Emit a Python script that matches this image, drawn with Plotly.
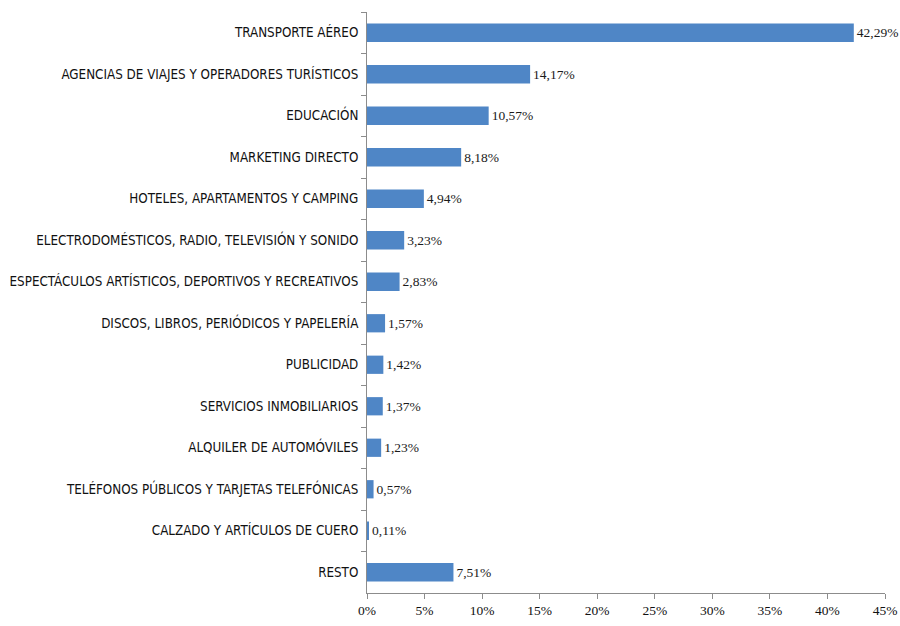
import plotly.graph_objects as go

categories = [
    'TRANSPORTE AÉREO',
    'AGENCIAS DE VIAJES Y OPERADORES TURÍSTICOS',
    'EDUCACIÓN',
    'MARKETING DIRECTO',
    'HOTELES, APARTAMENTOS Y CAMPING',
    'ELECTRODOMÉSTICOS, RADIO, TELEVISIÓN Y SONIDO',
    'ESPECTÁCULOS ARTÍSTICOS, DEPORTIVOS Y RECREATIVOS',
    'DISCOS, LIBROS, PERIÓDICOS Y PAPELERÍA',
    'PUBLICIDAD',
    'SERVICIOS INMOBILIARIOS',
    'ALQUILER DE AUTOMÓVILES',
    'TELÉFONOS PÚBLICOS Y TARJETAS TELEFÓNICAS',
    'CALZADO Y ARTÍCULOS DE CUERO',
    'RESTO',
]
values = [42.29, 14.17, 10.57, 8.18, 4.94, 3.23, 2.83, 1.57, 1.42, 1.37, 1.23, 0.57, 0.11, 7.51]
x_ticks = [0, 5, 10, 15, 20, 25, 30, 35, 40, 45]
x_labels = ['0%', '5%', '10%', '15%', '20%', '25%', '30%', '35%', '40%', '45%']

serif = 'Liberation Serif, Times New Roman, serif'
narrow = 'DejaVu Sans Condensed, Arial Narrow, sans-serif'

fig = go.Figure(go.Bar(
    x=values,
    y=categories,
    orientation='h',
    width=0.44,
    marker=dict(color='#4F86C6', line=dict(width=0)),
    texttemplate='%{x:.2f}%',
    textposition='outside',
    constraintext='none',
    cliponaxis=False,
    textfont=dict(family=serif, size=13.5, color='#1a1a1a'),
))

fig.update_layout(
    width=900, height=626,
    margin=dict(l=367, r=15, t=12, b=33, autoexpand=False),
    paper_bgcolor='white',
    plot_bgcolor='white',
    separators=',.',
    showlegend=False,
)

fig.update_xaxes(
    range=[0, 45],
    tickvals=x_ticks,
    ticktext=x_labels,
    automargin=False,
    showgrid=False,
    zeroline=False,
    showline=True,
    linecolor='#8c8c8c',
    linewidth=1,
    ticks='outside',
    ticklen=5,
    tickcolor='#8c8c8c',
    tickfont=dict(family=serif, size=13.5, color='#111111'),
)

fig.update_yaxes(
    autorange='reversed',
    automargin=False,
    showgrid=False,
    showline=True,
    linecolor='#8c8c8c',
    linewidth=1,
    ticks='outside',
    tickson='boundaries',
    ticklen=5,
    ticklabelstandoff=5,
    tickcolor='#8c8c8c',
    tickfont=dict(family=narrow, size=13.3, color='#111111'),
)

# the page's default body margin would push the fixed-size figure off the window
fig.write_html(
    'out.html',
    config={'displayModeBar': False},
    post_script="document.body.style.margin='0';document.body.style.overflow='hidden';",
)
